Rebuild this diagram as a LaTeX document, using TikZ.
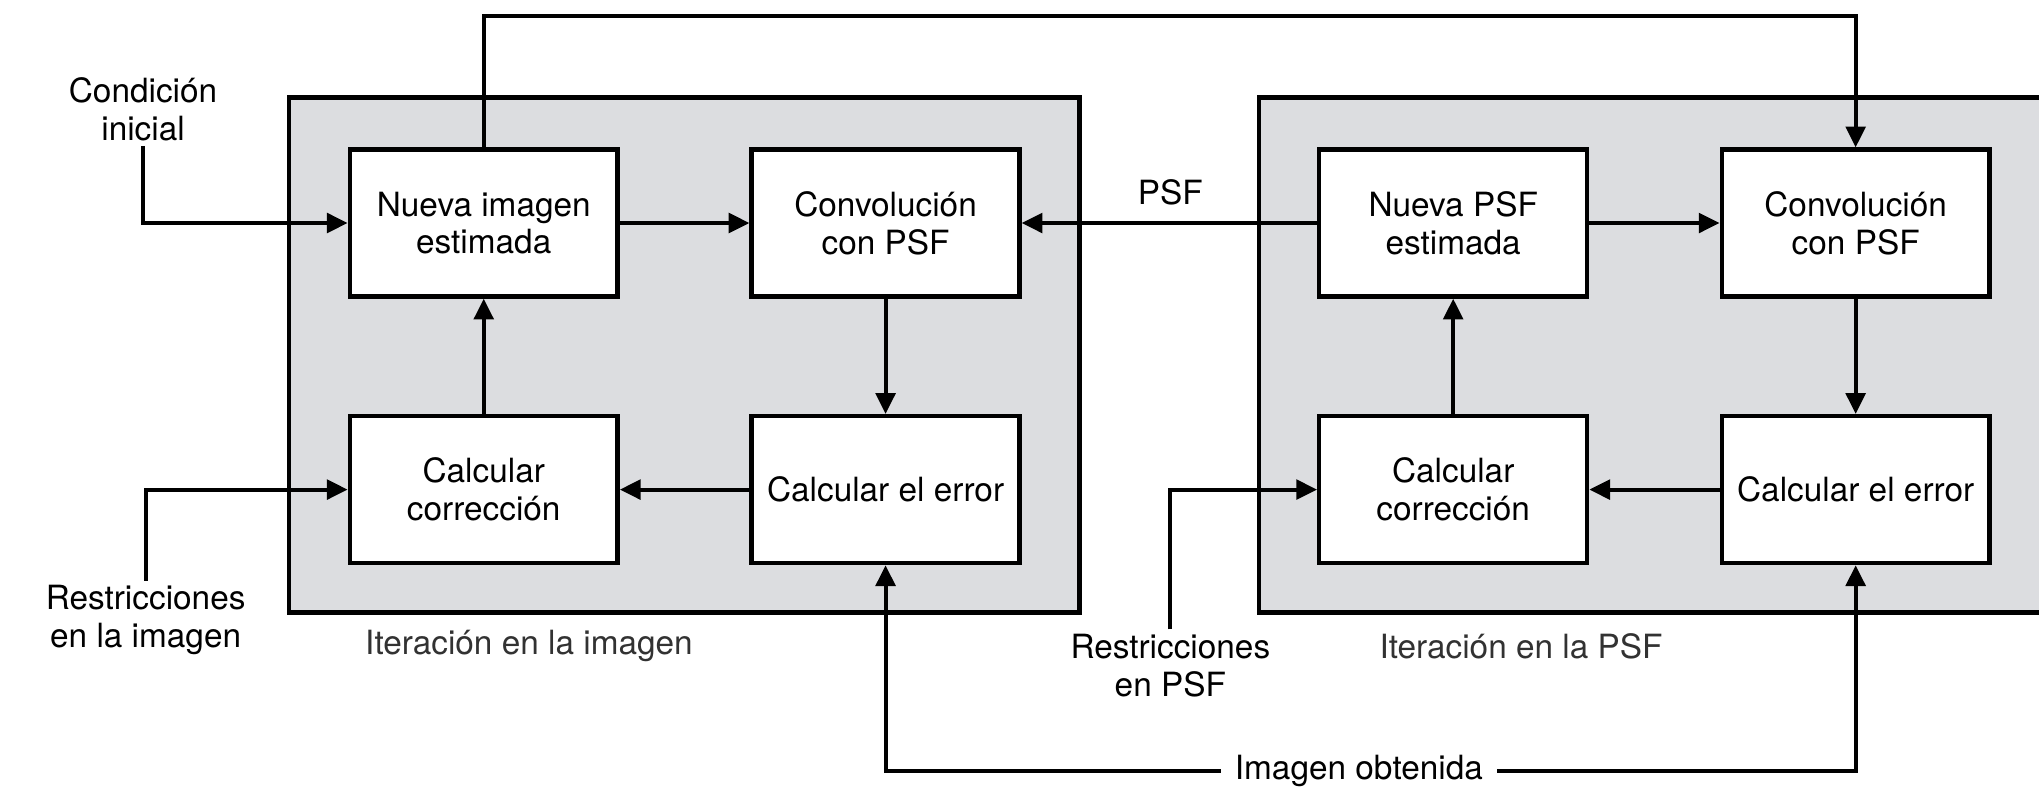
\documentclass[tikz,border=0pt]{standalone}
\usepackage{fontspec}
\setmainfont{TeX Gyre Heros}
\usetikzlibrary{arrows.meta}
\definecolor{panelgray}{RGB}{220,221,224}
\definecolor{labelgray}{RGB}{50,50,50}
\begin{document}
\begin{tikzpicture}[x=0.02cm,y=-0.02cm,
  font=\fontsize{14.6}{16.5}\selectfont,
  every node/.style={align=center},
  blk/.style={draw, line width=1.9pt, fill=white, minimum width=4.12cm, minimum height=2.26cm, inner sep=0pt},
  panel/.style={draw, line width=1.9pt, fill=panelgray},
  lbl/.style={inner sep=2pt},
  arr/.style={line width=1.8pt, -{Triangle[length=0.32cm,width=0.3cm]}},
  ln/.style={line width=1.8pt}]
\clip (0,0) rectangle (1568,608);
\fill[white] (0,0) rectangle (1568,608);
% panels
\draw[panel] (222,75) rectangle (830,471);
\draw[panel] (968,75) rectangle (1600,471);
% blocks left
\node[blk] (ni) at (372,171.5) {Nueva imagen\\estimada};
\node[blk] (cv1) at (681,171.5) {Convolución\\con PSF};
\node[blk] (cc1) at (372,376.5) {Calcular\\corrección};
\node[blk] (ce1) at (681,376.5) {Calcular el error};
% blocks right
\node[blk] (np) at (1117.5,171.5) {Nueva PSF\\estimada};
\node[blk] (cv2) at (1427,171.5) {Convolución\\con PSF};
\node[blk] (cc2) at (1117.5,376.5) {Calcular\\corrección};
\node[blk] (ce2) at (1427,376.5) {Calcular el error};
% labels
\node[lbl] (ci) at (110,84) {Condición\\inicial};
\node[lbl] (ri) at (112,477) {Restricciones\\en la imagen};
\node[lbl, anchor=west, text=labelgray] (itl) at (277,497) {Iteración en la imagen};
\node[lbl] (psf) at (900,148) {PSF};
\node[lbl] (rp) at (900,512) {Restricciones\\en PSF};
\node[lbl, anchor=west, text=labelgray] (itr) at (1057,497) {Iteración en la PSF};
\node[lbl, inner sep=6pt] (io) at (1045,593) {Imagen obtenida};
% connectors left
\draw[arr] (ci.south) |- (ni.west);
\draw[arr] (ri.north) |- (cc1.west);
\draw[arr] (ni) -- (cv1);
\draw[arr] (cv1) -- (ce1);
\draw[arr] (ce1) -- (cc1);
\draw[arr] (cc1) -- (ni);
% connectors right
\draw[arr] (rp.north) |- (cc2.west);
\draw[arr] (np) -- (cv2);
\draw[arr] (cv2) -- (ce2);
\draw[arr] (ce2) -- (cc2);
\draw[arr] (cc2) -- (np);
% PSF link
\draw[arr] (np.west) -- (cv1.east);
% top feedback
\coordinate (topc) at (900,12);
\draw[arr] (ni.north) |- (topc) -| (cv2.north);
% image obtained
\draw[arr] (io.west) -| (ce1.south);
\draw[arr] (io.east) -| (ce2.south);
\end{tikzpicture}
\end{document}
